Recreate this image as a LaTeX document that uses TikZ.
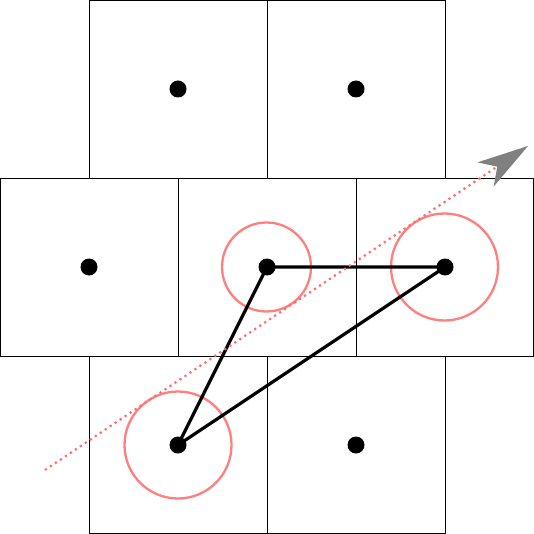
\documentclass[tikz,border=0pt]{standalone}
\usetikzlibrary{arrows.meta}
\definecolor{ringred}{HTML}{FF7F7F}
\definecolor{dotred}{HTML}{FF6E6E}
\begin{document}
\begin{tikzpicture}[x=1pt,y=-1pt,
  cell/.style={draw=black,line width=0.9pt},
  pt/.style={circle,fill=black,inner sep=0pt,minimum size=17pt},
  ring/.style={draw=ringred,line width=2.3pt},
  edge/.style={draw=black,line width=3.2pt},
  ray/.style={draw=dotred,line width=2.2pt,dash pattern=on 2.2pt off 3.8pt,
    -{Stealth[length=51pt,width=29pt,inset=14pt,color=black!50,fill=black!50]}}]
\useasboundingbox (0,0) rectangle (534,534);
% cells
\draw[cell] (89,0.5) rectangle (267,178);
\draw[cell] (267,0.5) rectangle (445,178);
\draw[cell] (0.5,178) rectangle (178,356);
\draw[cell] (178,178) rectangle (356,356);
\draw[cell] (356,178) rectangle (533.5,356);
\draw[cell] (89,356) rectangle (267,533.5);
\draw[cell] (267,356) rectangle (445,533.5);
% circles
\draw[ring] (266.5,267) circle (44.5);
\draw[ring] (444.5,267) circle (53.5);
\draw[ring] (178,445) circle (53.5);
% points
\node[pt] (p1) at (178,89) {};
\node[pt] (p2) at (356,89) {};
\node[pt] (p3) at (89,267) {};
\node[pt] (a) at (267,267) {};
\node[pt] (b) at (445,267) {};
\node[pt] (c) at (178,445) {};
\node[pt] (p7) at (356,445) {};
% triangle
\draw[edge] (c.center) -- (a.center) -- (b.center) -- (c.center);
% ray
\coordinate (rs) at (45,470);
\coordinate (re) at (528,146);
\draw[ray] (rs) -- (re);
\end{tikzpicture}
\end{document}
